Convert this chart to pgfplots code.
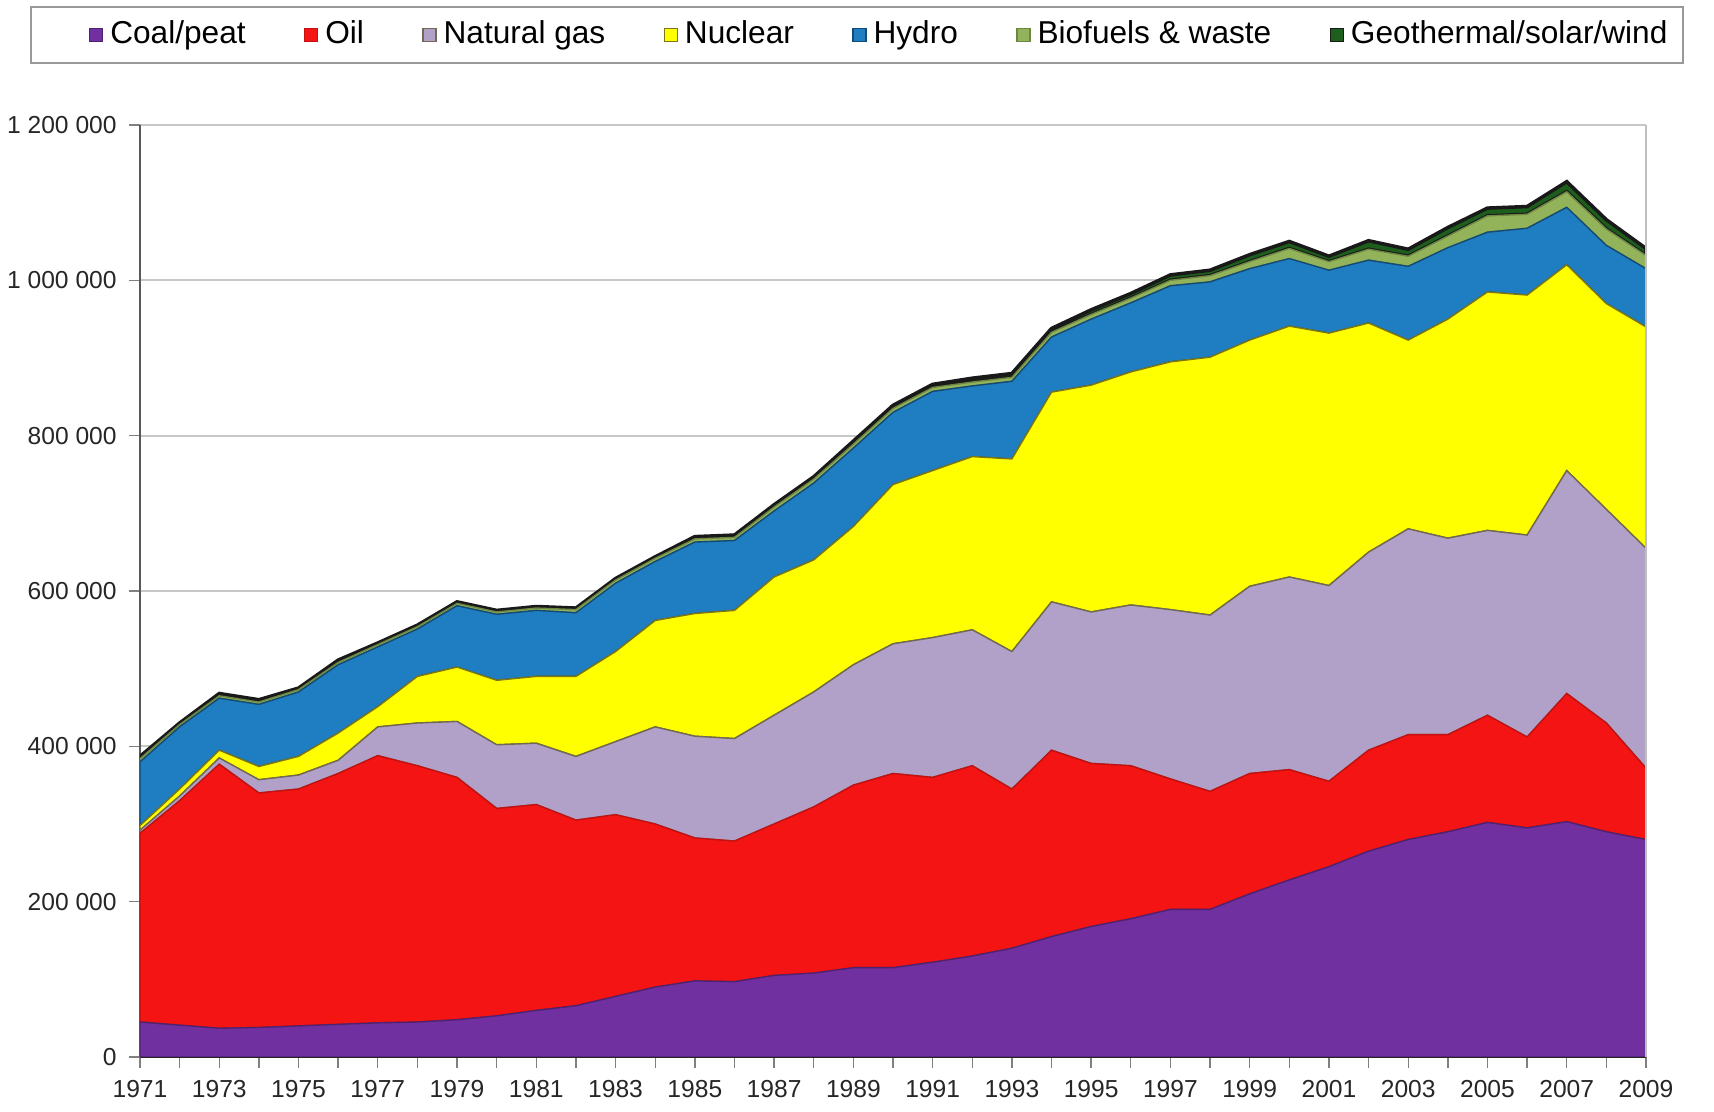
\documentclass[border=0pt]{standalone}
\usepackage{pgfplots}
\pgfplotsset{compat=1.18}
\usepackage{pgfplotstable}
\usepackage{fontspec}
\setmainfont{Liberation Sans}

\definecolor{ccoal}{RGB}{112,48,160}
\definecolor{coil}{RGB}{244,20,20}
\definecolor{cgas}{RGB}{177,160,199}
\definecolor{cnuc}{RGB}{255,255,0}
\definecolor{chydro}{RGB}{31,125,193}
\definecolor{cbio}{RGB}{146,179,90}
\definecolor{cgeo}{RGB}{29,94,29}

\pgfplotstableread{
year coal oil gas nuclear hydro bio geo
1971 45000 243000 4000 6000 82000 4000 3000
1972 41000 289000 6000 9000 80000 3000 2000
1973 37000 340000 8000 10000 67000 3000 3000
1974 38000 302000 17000 17000 80000 3000 3000
1975 40000 305000 18000 24000 83000 3000 2000
1976 42000 323000 17000 35000 88000 3000 3000
1977 44000 344000 37000 26000 77000 3000 2000
1978 45000 330000 55000 60000 61000 3000 2000
1979 48000 312000 72000 70000 79000 3000 2000
1980 53000 267000 82000 83000 85000 3000 2000
1981 60000 265000 79000 86000 85000 3000 2000
1982 66000 239000 82000 103000 82000 4000 2000
1983 78000 234000 94000 116000 88000 4000 2000
1984 90000 210000 125000 137000 76000 4000 2000
1985 98000 184000 131000 158000 92000 4000 3000
1986 97000 181000 132000 165000 90000 4000 3000
1987 105000 195000 140000 178000 85000 5000 3000
1988 108000 214000 148000 170000 99000 5000 3000
1989 115000 235000 155000 178000 101000 5000 4000
1990 115000 250000 167000 205000 93000 5000 4000
1991 122000 238000 180000 215000 102000 5000 4000
1992 130000 245000 175000 223000 91000 5000 5000
1993 140000 205000 177000 248000 100000 5000 5000
1994 155000 240000 191000 270000 71000 6000 5000
1995 168000 210000 195000 292000 85000 6000 6000
1996 178000 197000 207000 300000 89000 6000 6000
1997 190000 168000 218000 319000 98000 7000 7000
1998 190000 152000 227000 332000 97000 8000 7000
1999 210000 155000 241000 317000 92000 9000 9000
2000 228000 142000 248000 323000 87000 13000 9000
2001 245000 110000 252000 325000 81000 11000 7000
2002 265000 130000 255000 295000 81000 14000 11000
2003 280000 135000 265000 243000 95000 13000 9000
2004 290000 125000 253000 282000 92000 15000 11000
2005 302000 138000 238000 307000 77000 21000 10000
2006 295000 117000 260000 309000 86000 18000 10000
2007 303000 165000 287000 265000 74000 20000 13000
2008 290000 140000 275000 265000 75000 21000 12000
2009 280000 92000 283000 285000 75000 17000 9000
}\data

\begin{document}
\begin{tikzpicture}
\path[use as bounding box] (0,0) rectangle (171.4mm,111.2mm);
\begin{axis}[
  at={(14mm,5.5mm)}, anchor=south west,
  scale only axis, width=150.6mm, height=93.2mm,
  xmin=1971, xmax=2009, ymin=0, ymax=1200000,
  stack plots=y,
  xtick={1971,1973,...,2009},
  minor xtick={1972,1974,...,2008},
  ytick={0,200000,400000,600000,800000,1000000,1200000},
  yticklabels={0,200 000,400 000,600 000,800 000,1 000 000,1 200 000},
  scaled y ticks=false,
  xticklabel style={/pgf/number format/1000 sep={}},
  tick label style={font=\fontsize{7}{8}\selectfont, text=black!85},
  /pgf/number format/assume math mode=true,
  tick align=outside,
  major tick length=1.1mm, minor tick length=1.1mm,
  ymajorgrids, grid style={draw=black!22, line width=0.6pt},
  axis x line*=bottom, axis y line*=left,
  axis line style={-},
  x axis line style={draw=black!85, line width=0.8pt},
  y axis line style={draw=black!65, line width=0.5pt},
  tick style={draw=black!50, line width=0.4pt},
  legend columns=7,
  legend style={draw=none, fill=none, inner sep=0pt,
    at={(-0.0342,1.0966)}, anchor=west,
    font=\fontsize{9}{11}\selectfont,
    /tikz/every even column/.append style={column sep=5.15mm}},
  legend image code/.code={\draw[#1, line width=0.3pt] (0mm,-0.65mm) rectangle (1.3mm,0.65mm);},
  after end axis/.code={
    \draw[black!25, line width=0.6pt] (rel axis cs:1,0) -- (rel axis cs:1,1);
    \draw[black!40, line width=0.5pt] (axis description cs:-0.0724,1.0665) rectangle (axis description cs:1.0246,1.1266);
  },
]
\addplot[fill=ccoal, draw=ccoal!70!black, line width=0.4pt] table[x=year,y=coal]{\data} \closedcycle;
\addlegendentry{Coal/peat}
\addplot[fill=coil, draw=coil!80!black, line width=0.4pt] table[x=year,y=oil]{\data} \closedcycle;
\addlegendentry{Oil}
\addplot[fill=cgas, draw=cgas!60!black!70!olive, line width=0.4pt] table[x=year,y=gas]{\data} \closedcycle;
\addlegendentry{Natural gas}
\addplot[fill=cnuc, draw=olive!85!black, line width=0.4pt] table[x=year,y=nuclear]{\data} \closedcycle;
\addlegendentry{Nuclear}
\addplot[fill=chydro, draw=chydro!60!black, line width=0.4pt] table[x=year,y=hydro]{\data} \closedcycle;
\addlegendentry{Hydro}
\addplot[fill=cbio, draw=cbio!75!black, line width=0.4pt] table[x=year,y=bio]{\data} \closedcycle;
\addlegendentry{Biofuels \& waste}
\addplot[fill=cgeo, draw=black!90, line width=1pt] table[x=year,y=geo]{\data} \closedcycle;
\addlegendentry{Geothermal/solar/wind}
\end{axis}
\end{tikzpicture}
\end{document}
